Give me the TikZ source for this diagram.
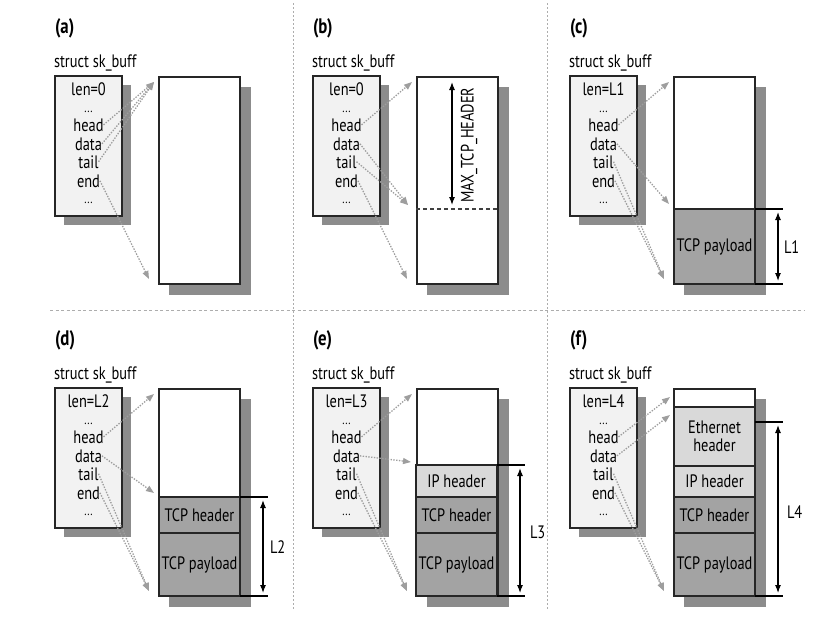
\documentclass[tikz,border=0pt]{standalone}
\usepackage{fontspec}
\setmainfont{PT Sans}[FakeStretch=0.8]
\usetikzlibrary{arrows.meta}
\definecolor{shadowc}{gray}{0.55}
\definecolor{structfill}{gray}{0.95}
\definecolor{darkseg}{gray}{0.64}
\definecolor{lightseg}{gray}{0.85}
\definecolor{ptrc}{gray}{0.62}
\definecolor{sepc}{gray}{0.68}
\tikzset{
 every node/.style={inner sep=0pt, outer sep=0pt},
 txt/.style={font=\fontsize{18}{19}\selectfont, anchor=base},
 dots/.style={font=\fontsize{13}{13}\selectfont, anchor=base},
 plabel/.style={font=\fontsize{21}{22}\selectfont\bfseries, anchor=base west},
 structbox/.style={draw=black!85, line width=1.2pt, fill=structfill, anchor=north west, minimum width=67pt, minimum height=140pt},
 bufbox/.style={draw=black!85, line width=1.2pt, fill=white, anchor=north west, minimum width=81pt, minimum height=207pt},
 seg/.style={draw=black!85, line width=1.2pt, anchor=north west, minimum width=81pt, font=\fontsize{18}{18}\selectfont, align=center},
 darkpart/.style={seg, fill=darkseg},
 lightpart/.style={seg, fill=lightseg},
 ptr/.style={draw=ptrc, line width=1.3pt, dash pattern=on 1.4pt off 1.4pt, -{Triangle[length=8pt,width=6pt]}},
 dim/.style={line width=1.1pt, {Latex[length=8pt,width=6pt]}-{Latex[length=8pt,width=6pt]}},
 tick/.style={line width=1.1pt},
 hsep/.style={draw=sepc, line width=1pt, dash pattern=on 3pt off 2.5pt},
 vsep/.style={draw=sepc, line width=1pt, dash pattern=on 2pt off 2pt},
 reserve/.style={line width=1.1pt, dash pattern=on 4pt off 3pt, draw=black!75},
}
\newcommand\skbpanel[4]{%
\begin{scope}[shift={(#2,#3)}]
 \node[plabel] (#1lab) at (55,33) {(#1)};
 \node[txt, anchor=base west] (#1title) at (54,67) {struct sk\_buff};
 \fill[shadowc] (64,85) rectangle (131,225);
 \node[structbox] (#1skb) at (55,76) {};
 \node[txt] (#1len) at (88.5,95) {len=#4};
 \node[dots] (#1da) at (88.5,112) {...};
 \node[txt] (#1head) at (88.5,131) {head};
 \node[txt] (#1data) at (88.5,150) {data};
 \node[txt] (#1tail) at (88.5,168) {tail};
 \node[txt] (#1end) at (88.5,187) {end};
 \node[dots] (#1db) at (88.5,203) {...};
 \fill[shadowc] (169,87) rectangle (251,295);
 \node[bufbox] (#1buf) at (159,77) {};
 \coordinate (#1top) at (154,82);
 \coordinate (#1bot) at (149,279);
\end{scope}}
\begin{document}
\begin{tikzpicture}[x=1pt,y=-1pt]
\useasboundingbox (0,0) rectangle (819,624);
% separators
\coordinate (v1t) at (293,3); \coordinate (v1b) at (293,610);
\coordinate (v2t) at (547,3); \coordinate (v2b) at (547,610);
\coordinate (h1) at (50,310); \coordinate (h2) at (805,310);
\draw[vsep] (v1t) -- (v1b);
\draw[vsep] (v2t) -- (v2b);
\draw[hsep] (h1) -- (h2);

% (a)
\skbpanel{a}{0}{0}{0}
\draw[ptr] (ahead.east) -- (atop);
\draw[ptr] (adata.east) -- (atop);
\draw[ptr] (atail.east) -- (atop);
\draw[ptr] (aend.east) -- (abot);

% (b)
\skbpanel{b}{258}{0}{0}
\coordinate (bdl) at (416,209); \coordinate (bdr) at (497,209);
\draw[reserve] (bdl) -- (bdr);
\coordinate (bm1) at (452,82); \coordinate (bm2) at (452,205);
\draw[dim] (bm1) -- (bm2);
\node[font=\fontsize{18}{18}\selectfont, rotate=90] (bmax) at (469,145) {MAX\_TCP\_HEADER};
\coordinate (bres) at (408,205);
\draw[ptr] (bhead.east) -- (btop);
\draw[ptr] (bdata.east) -- (bres);
\draw[ptr] (btail.east) -- (bres);
\draw[ptr] (bend.east) -- (bbot);

% (c)
\skbpanel{c}{515}{0}{L1}
\node[darkpart, minimum height=75pt] (cpay) at (674,209) {TCP payload};
\coordinate (ct1) at (783,209); \coordinate (ct2) at (783,284);
\draw[tick] (cpay.north east) -- (ct1);
\draw[tick] (cpay.south east) -- (ct2);
\coordinate (cl1) at (778,212); \coordinate (cl2) at (778,281);
\draw[dim] (cl1) -- (cl2);
\node[txt, anchor=west] (cL) at (784,247) {L1};
\coordinate (cdat) at (669,204);
\draw[ptr] (chead.east) -- (ctop);
\draw[ptr] (cdata.east) -- (cdat);
\draw[ptr] (ctail.east) -- (cbot);
\draw[ptr] (cend.east) -- (cbot);

% (d)
\skbpanel{d}{0}{312}{L2}
\node[darkpart, minimum height=36pt] (dhdr) at (159,497) {TCP header};
\node[darkpart, minimum height=63pt] (dpay) at (159,533) {TCP payload};
\coordinate (dt1) at (268,497); \coordinate (dt2) at (268,596);
\draw[tick] (dhdr.north east) -- (dt1);
\draw[tick] (dpay.south east) -- (dt2);
\coordinate (dl1) at (263,500); \coordinate (dl2) at (263,593);
\draw[dim] (dl1) -- (dl2);
\node[txt, anchor=west] (dL) at (270,547) {L2};
\coordinate (ddat) at (154,493);
\draw[ptr] (dhead.east) -- (dtop);
\draw[ptr] (ddata.east) -- (ddat);
\draw[ptr] (dtail.east) -- (dbot);
\draw[ptr] (dend.east) -- (dbot);

% (e)
\skbpanel{e}{258}{312}{L3}
\node[lightpart, minimum height=32pt] (eip) at (416,465) {IP header};
\node[darkpart, minimum height=36pt] (ehdr) at (416,497) {TCP header};
\node[darkpart, minimum height=63pt] (epay) at (416,533) {TCP payload};
\coordinate (et1) at (525,465); \coordinate (et2) at (525,596);
\draw[tick] (eip.north east) -- (et1);
\draw[tick] (epay.south east) -- (et2);
\coordinate (el1) at (520,468); \coordinate (el2) at (520,593);
\draw[dim] (el1) -- (el2);
\node[txt, anchor=west] (eL) at (530,532) {L3};
\coordinate (edat) at (411,462);
\draw[ptr] (ehead.east) -- (etop);
\draw[ptr] (edata.east) -- (edat);
\draw[ptr] (etail.east) -- (ebot);
\draw[ptr] (eend.east) -- (ebot);

% (f)
\skbpanel{f}{515}{312}{L4}
\node[lightpart, minimum height=59pt, font=\fontsize{18}{18.5}\selectfont] (feth) at (674,407) {Ethernet\\header};
\node[lightpart, minimum height=31pt] (fip) at (674,466) {IP header};
\node[darkpart, minimum height=36pt] (fhdr) at (674,497) {TCP header};
\node[darkpart, minimum height=63pt] (fpay) at (674,533) {TCP payload};
\coordinate (ft0) at (755,422);
\coordinate (ft1) at (783,422); \coordinate (ft2) at (783,596);
\draw[tick] (ft0) -- (ft1);
\draw[tick] (fpay.south east) -- (ft2);
\coordinate (fl1) at (778,425); \coordinate (fl2) at (778,593);
\draw[dim] (fl1) -- (fl2);
\node[txt, anchor=west] (fL) at (787,512) {L4};
\coordinate (fhd) at (670,397);
\coordinate (fdat) at (670,415);
\draw[ptr] (fhead.east) -- (fhd);
\draw[ptr] (fdata.east) -- (fdat);
\draw[ptr] (ftail.east) -- (fbot);
\draw[ptr] (fend.east) -- (fbot);
\end{tikzpicture}
\end{document}
